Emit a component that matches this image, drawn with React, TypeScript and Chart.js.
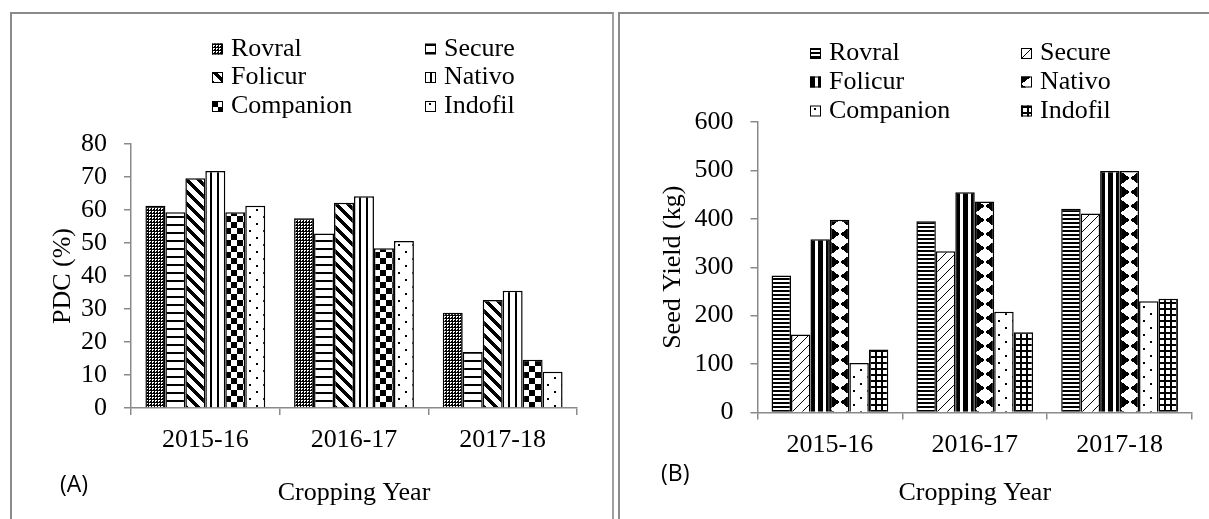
import React, { useEffect, useRef } from 'react';
import { Chart, registerables } from 'chart.js';

Chart.register(...registerables);

// ---------------- data ----------------
const years = ['2015-16', '2016-17', '2017-18'];
const fungicides = ['Rovral', 'Secure', 'Folicur', 'Nativo', 'Companion', 'Indofil'];

// Panel A: PDC (%)
const pdcRovral = [61.3, 57.5, 28.9];
const pdcSecure = [59.3, 52.9, 17];
const pdcFolicur = [69.6, 62.2, 32.7];
const pdcNativo = [71.8, 64.2, 35.5];
const pdcCompanion = [59.3, 48.4, 14.6];
const pdcIndofil = [61.3, 50.6, 11];

// Panel B: Seed Yield (kg)
const yieldRovral = [283, 395, 421];
const yieldSecure = [161, 333, 411];
const yieldFolicur = [358, 455, 499];
const yieldNativo = [398, 436, 499];
const yieldCompanion = [102, 208, 230];
const yieldIndofil = [130, 166, 235];

const pdcMax = 80;
const pdcStep = 10;
const yieldMax = 600;
const yieldStep = 100;

// ---------------- patterns ----------------
type Tile = { w: number; h: number; f: (x: number, y: number) => boolean };

const TILES: Record<string, Tile> = {
  dottedGrid: { w: 3, h: 3, f: (x, y) => x === 0 || y === 0 || (x === 2 && y === 2) },
  hLinesWide: { w: 1, h: 8, f: (_x, y) => y < 2 },
  diagDownWide: { w: 12, h: 12, f: (x, y) => ((x - y + 24) % 12) < 5 },
  vLines: { w: 7, h: 1, f: (x) => x >= 5 && x < 7 },
  checker: { w: 12, h: 12, f: (x, y) => (x < 6) === (y < 6) },
  sparseDots: {
    w: 14,
    h: 14,
    f: (x, y) => (x >= 4 && x < 6 && y >= 2 && y < 4) || (x >= 11 && x < 13 && y >= 9 && y < 11),
  },
  hLinesNarrow: { w: 1, h: 4, f: (_x, y) => y < 2 },
  diagUpThin: { w: 10, h: 10, f: (x, y) => ((x + y) % 10) === 0 },
  vLinesWide: { w: 8, h: 1, f: (x) => x < 5 },
  diamonds: {
    w: 20,
    h: 14,
    f: (x, y) => Math.abs(x + 0.5 - 10) / 10 + Math.abs(y + 0.5 - 7) / 7 > 1,
  },
  grid: { w: 6, h: 6, f: (x, y) => x < 2 || y < 2 },
};

const tileCanvasCache: Record<string, HTMLCanvasElement> = {};
function tileCanvas(name: string): HTMLCanvasElement {
  if (tileCanvasCache[name]) return tileCanvasCache[name];
  const t = TILES[name];
  const c = document.createElement('canvas');
  c.width = t.w;
  c.height = t.h;
  const g = c.getContext('2d')!;
  const img = g.createImageData(t.w, t.h);
  for (let y = 0; y < t.h; y++) {
    for (let x = 0; x < t.w; x++) {
      const v = t.f(x, y) ? 0 : 255;
      const k = (y * t.w + x) * 4;
      img.data[k] = v;
      img.data[k + 1] = v;
      img.data[k + 2] = v;
      img.data[k + 3] = 255;
    }
  }
  g.putImageData(img, 0, 0);
  tileCanvasCache[name] = c;
  return c;
}

function makePattern(ctx: CanvasRenderingContext2D, name: string, ox: number, oy: number): CanvasPattern {
  const p = ctx.createPattern(tileCanvas(name), 'repeat')!;
  p.setTransform(new DOMMatrix().translate(Math.round(ox), Math.round(oy)));
  return p;
}

const CAT_PCT = 0.806;

function barPattern(c: any, name: string): CanvasPattern {
  const chart = c.chart;
  const ctx = chart.ctx as CanvasRenderingContext2D;
  const xs = chart.scales && chart.scales.x;
  if (c.dataIndex === undefined || !xs || !chart.chartArea) {
    return makePattern(ctx, name, 0, 0);
  }
  const catW = (xs.right - xs.left) / years.length;
  const groupW = catW * CAT_PCT;
  const barW = groupW / fungicides.length;
  const center = xs.getPixelForValue(c.dataIndex);
  const left = center - groupW / 2 + c.datasetIndex * barW;
  return makePattern(ctx, name, left, chart.chartArea.top);
}

// ---------------- legend plugin ----------------
const gridLegend = {
  id: 'gridLegend',
  afterDraw(chart: any, _args: any, opts: any) {
    const ctx = chart.ctx as CanvasRenderingContext2D;
    const size = opts.size;
    ctx.save();
    ctx.font = '26px "Liberation Serif", "Times New Roman", serif';
    ctx.textBaseline = 'middle';
    ctx.textAlign = 'left';
    chart.data.datasets.forEach((ds: any, i: number) => {
      const col = i % 2;
      const row = Math.floor(i / 2);
      const mx = opts.cols[col];
      const my = opts.rows[row];
      ctx.fillStyle = makePattern(ctx, opts.tiles[i], mx, my - size / 2);
      ctx.fillRect(mx, my - size / 2, size, size);
      ctx.strokeStyle = '#000';
      ctx.lineWidth = 1;
      ctx.strokeRect(mx + 0.5, my - size / 2 + 0.5, size - 1, size - 1);
      ctx.fillStyle = '#000';
      ctx.fillText(ds.label, mx + 19, my);
    });
    ctx.restore();
  },
};

// ---------------- chart config ----------------
const AXIS_GRAY = '#8a8a8a';
const SERIF = '"Liberation Serif", "Times New Roman", serif';

type PanelSpec = {
  values: number[][];
  tiles: string[];
  max: number;
  step: number;
  yTitle: string;
  yWidth: number;
  xHeight: number;
  padding: { top: number; right: number; bottom: number; left: number };
  yTitlePad: number;
  xTickPad: number;
  legendCols: number[];
  legendRows: number[];
};

function buildConfig(spec: PanelSpec): any {
  return {
    type: 'bar',
    data: {
      labels: years,
      datasets: fungicides.map((name, i) => ({
        label: name,
        data: spec.values[i],
        backgroundColor: (c: any) => barPattern(c, spec.tiles[i]),
        borderColor: '#000',
        borderWidth: 1.5,
        barPercentage: 1,
        categoryPercentage: CAT_PCT,
      })),
    },
    options: {
      responsive: false,
      animation: false,
      devicePixelRatio: 1,
      events: [],
      layout: { padding: spec.padding },
      plugins: {
        legend: { display: false },
        tooltip: { enabled: false },
        gridLegend: { cols: spec.legendCols, rows: spec.legendRows, tiles: spec.tiles, size: 11 },
      },
      scales: {
        x: {
          offset: true,
          grid: {
            display: true,
            offset: true,
            drawOnChartArea: false,
            drawTicks: true,
            tickLength: 7,
            color: AXIS_GRAY,
            lineWidth: 1.5,
          },
          border: { display: true, color: AXIS_GRAY, width: 1.5 },
          ticks: {
            font: { family: SERIF, size: 26 },
            color: '#000',
            padding: spec.xTickPad,
            maxRotation: 0,
            autoSkip: false,
          },
          title: {
            display: true,
            text: 'Cropping Year',
            font: { family: SERIF, size: 26 },
            color: '#000',
            padding: { top: 0, bottom: 10.4 },
          },
          afterFit: (s: any) => {
            s.height = spec.xHeight;
          },
        },
        y: {
          min: 0,
          max: spec.max,
          ticks: {
            stepSize: spec.step,
            autoSkip: false,
            font: { family: SERIF, size: 26 },
            color: '#000',
            padding: 17,
          },
          grid: {
            display: true,
            drawOnChartArea: false,
            drawTicks: true,
            tickLength: 7,
            color: AXIS_GRAY,
            lineWidth: 1.5,
          },
          border: { display: true, color: AXIS_GRAY, width: 1.5 },
          title: {
            display: true,
            text: spec.yTitle,
            font: { family: SERIF, size: 26 },
            color: '#000',
            padding: { top: spec.yTitlePad, bottom: 0 },
          },
          afterFit: (s: any) => {
            s.width = spec.yWidth;
          },
        },
      },
    },
    plugins: [gridLegend],
  };
}

const specA: PanelSpec = {
  values: [pdcRovral, pdcSecure, pdcFolicur, pdcNativo, pdcCompanion, pdcIndofil],
  tiles: ['dottedGrid', 'hLinesWide', 'diagDownWide', 'vLines', 'checker', 'sparseDots'],
  max: pdcMax,
  step: pdcStep,
  yTitle: 'PDC (%)',
  yWidth: 131,
  xHeight: 111,
  padding: { top: 144, right: 36, bottom: 0, left: 0 },
  yTitlePad: 47.4,
  xTickPad: 9.5,
  legendCols: [212, 425],
  legendRows: [49, 77.5, 106.5],
};

const specB: PanelSpec = {
  values: [yieldRovral, yieldSecure, yieldFolicur, yieldNativo, yieldCompanion, yieldIndofil],
  tiles: ['hLinesNarrow', 'diagUpThin', 'vLinesWide', 'diamonds', 'sparseDots', 'grid'],
  max: yieldMax,
  step: yieldStep,
  yTitle: 'Seed Yield (kg)',
  yWidth: 144.5,
  xHeight: 106.5,
  padding: { top: 122, right: 17, bottom: 0, left: 0 },
  yTitlePad: 44.4,
  xTickPad: 9.9,
  legendCols: [197, 408],
  legendRows: [53.5, 82, 111],
};

function Panel({ spec, left, width }: { spec: PanelSpec; left: number; width: number }) {
  const ref = useRef<HTMLCanvasElement | null>(null);
  useEffect(() => {
    if (!ref.current) return;
    const chart = new Chart(ref.current, buildConfig(spec));
    return () => chart.destroy();
  }, [spec]);
  return (
    <canvas
      ref={ref}
      width={width}
      height={519}
      style={{ position: 'absolute', left, top: 0, width, height: 519 }}
    />
  );
}

const labelStyle: React.CSSProperties = {
  position: 'absolute',
  fontFamily: '"Open Sans", "Noto Sans", sans-serif',
  fontSize: 23,
  lineHeight: '24px',
  color: '#000',
};

export default function App() {
  return (
    <div
      style={{
        position: 'fixed',
        left: 0,
        top: 0,
        width: 1209,
        height: 519,
        background: '#fff',
        overflow: 'hidden',
      }}
    >
      <div
        style={{
          position: 'absolute',
          left: 10,
          top: 12,
          width: 600,
          height: 600,
          borderLeft: '2px solid #8a8a8a',
          borderTop: '2px solid #8a8a8a',
          borderRight: '2px solid #a0a0a0',
        }}
      />
      <div
        style={{
          position: 'absolute',
          left: 618,
          top: 12,
          width: 700,
          height: 600,
          borderLeft: '2px solid #8a8a8a',
          borderTop: '2px solid #8a8a8a',
        }}
      />
      <Panel spec={specA} left={0} width={613} />
      <Panel spec={specB} left={613} width={596} />
      <div style={{ ...labelStyle, left: 60, top: 471 }}>(A)</div>
      <div style={{ ...labelStyle, left: 661, top: 460 }}>(B)</div>
    </div>
  );
}
